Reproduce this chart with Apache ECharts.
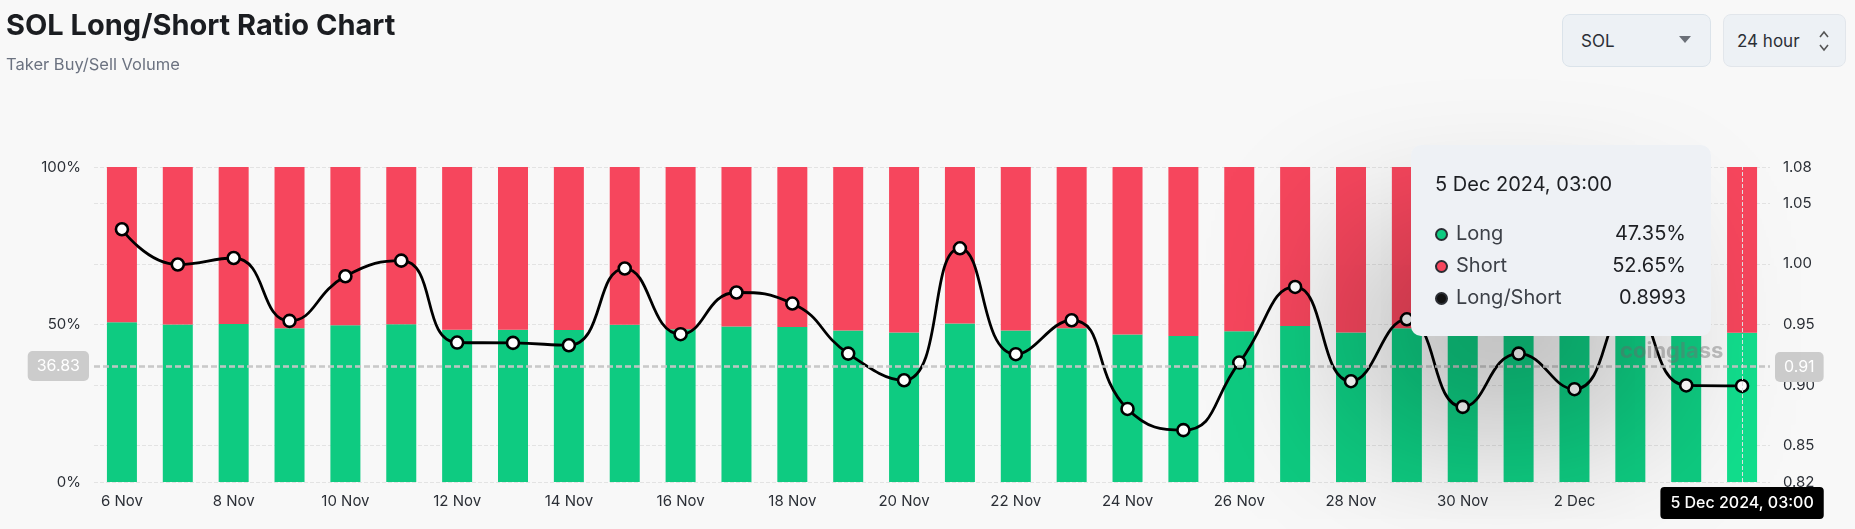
<!DOCTYPE html>
<html>
<head>
<meta charset="utf-8">
<script src="https://cdn.jsdelivr.net/npm/echarts@6/dist/echarts.min.js"></script>
<style>
html, body { margin: 0; padding: 0; background: #f8f8f8; }
#chart { width: 1855px; height: 529px; }
.sel {
    position: absolute; top: 14px; height: 53px; box-sizing: border-box;
    border: 1px solid #dbe3ea; border-radius: 8px; background: #edf1f5;
    font-family: Inter, sans-serif; font-size: 17px; color: #2b2f36;
    display: flex; align-items: center; z-index: 5;
}
</style>
</head>
<body>
<div id="chart"></div>
<div class="sel" style="left:1562px;width:149px;padding-left:18px;">SOL
    <svg style="position:absolute;left:116px;top:21px" width="12" height="8"><path d="M0 0 L12 0 L6 7 Z" fill="#6b7078"/></svg>
</div>
<div class="sel" style="left:1723px;width:123px;padding-left:13px;border-color:#e2e6eb;">24 hour
    <svg style="position:absolute;left:95px;top:15px" width="10" height="22"><path d="M1 7 L5 2 L9 7 M1 15 L5 20 L9 15" stroke="#555" stroke-width="1.6" fill="none"/></svg>
</div>
<script>
var days = ['6 Nov', '7 Nov', '8 Nov', '9 Nov', '10 Nov', '11 Nov', '12 Nov', '13 Nov', '14 Nov', '15 Nov',
    '16 Nov', '17 Nov', '18 Nov', '19 Nov', '20 Nov', '21 Nov', '22 Nov', '23 Nov', '24 Nov', '25 Nov',
    '26 Nov', '27 Nov', '28 Nov', '29 Nov', '30 Nov', '1 Dec', '2 Dec', '3 Dec', '4 Dec', '5 Dec'];
var longPct = [50.70, 49.99, 50.12, 48.80, 49.74, 50.07, 48.32, 48.31, 48.26, 49.90,
    48.51, 49.40, 49.17, 48.08, 47.48, 50.32, 48.06, 48.81, 46.82, 46.32,
    47.88, 49.52, 47.46, 48.83, 46.87, 48.08, 47.27, 49.11, 47.36, 47.35];
var shortPct = [49.30, 50.01, 49.88, 51.20, 50.26, 49.93, 51.68, 51.69, 51.74, 50.10,
    51.49, 50.60, 50.83, 51.92, 52.52, 49.68, 51.94, 51.19, 53.18, 53.68,
    52.12, 50.48, 52.54, 51.17, 53.13, 51.92, 52.73, 50.89, 52.64, 52.65];
var lsRatio = [1.0286, 0.9995, 1.0049, 0.9530, 0.9898, 1.0027, 0.9351, 0.9348, 0.9329, 0.9962,
    0.9420, 0.9764, 0.9673, 0.9260, 0.9040, 1.0129, 0.9255, 0.9535, 0.8803, 0.8628,
    0.9186, 0.9810, 0.9032, 0.9543, 0.8820, 0.9260, 0.8966, 0.9650, 0.8997, 0.8993];
var ratioTicks = [0.82, 0.85, 0.90, 0.95, 1.00, 1.05, 1.08];
var lastStamp = '5 Dec 2024, 03:00';

var green = '#0ecb81', red = '#f6465d';
var last = days.length - 1;

// last bar is the hovered one, a bit brighter
var longData = longPct.map(function (v, i) {
    return i === last ? { value: v, itemStyle: { color: '#12de8d' } } : v;
});

function dot(c) {
    return '<span style="display:inline-block;width:9px;height:9px;border-radius:50%;border:2px solid #2a2d33;background:' + c + ';margin-right:8px;vertical-align:-1px"></span>';
}
function row(c, name, val) {
    return '<div style="display:flex;justify-content:space-between;line-height:32px">' +
        '<span style="color:#3d4148">' + dot(c) + name + '</span><span style="color:#1d1f23">' + val + '</span></div>';
}

var myChart = echarts.init(document.getElementById('chart'));
myChart.setOption({
    animation: false,
    textStyle: { fontFamily: 'Inter, sans-serif' },
    title: {
        text: 'SOL Long/Short Ratio Chart',
        subtext: 'Taker Buy/Sell Volume',
        left: 1,
        top: 7,
        itemGap: 16,
        textStyle: { fontSize: 29, fontWeight: 'bold', color: '#1b1d21', fontFamily: 'Inter' },
        subtextStyle: { fontSize: 16.5, color: '#6b7280', fontFamily: 'Inter' }
    },
    grid: { left: 94, right: 85, top: 167, bottom: 47 },
    tooltip: {
        trigger: 'item',
        triggerOn: 'none',
        alwaysShowContent: true,
        position: [1411, 145],
        backgroundColor: '#eef1f5',
        borderWidth: 0,
        padding: 0,
        extraCssText: 'border-radius:10px;box-shadow:-60px 90px 150px rgba(0,0,0,0.26);',
        formatter: function (p) {
            var i = p.dataIndex;
            return '<div style="width:251px;padding:27px 25px 23px 24px;font-family:Inter,sans-serif;font-size:20px">' +
                '<div style="color:#1d1f23;line-height:24px;margin-bottom:21px">' + lastStamp + '</div>' +
                row(green, 'Long', longPct[i].toFixed(2) + '%') +
                row(red, 'Short', shortPct[i].toFixed(2) + '%') +
                row('#111', 'Long/Short', lsRatio[i].toFixed(4)) +
                '</div>';
        }
    },
    graphic: [{
        type: 'text',
        left: 1620,
        top: 340,
        z: 100,
        style: { text: 'coinglass', font: 'bold 22px Inter', fill: 'rgba(120,120,120,0.45)' }
    }],
    xAxis: {
        type: 'category',
        data: days,
        axisLine: { show: false },
        axisTick: { show: false },
        axisLabel: { interval: 1, color: '#2b2f36', fontSize: 15, margin: 12 },
        axisPointer: {
            show: true,
            status: 'show',
            value: last,
            type: 'line',
            lineStyle: { color: '#e2e2e2', type: 'dashed', width: 1 },
            label: {
                show: true,
                formatter: function () { return lastStamp; },
                backgroundColor: '#000',
                color: '#fff',
                fontSize: 16,
                fontWeight: 500,
                padding: [8, 10],
                borderRadius: 4,
                margin: 5
            }
        }
    },
    yAxis: [
        {
            type: 'value',
            min: 0,
            max: 100,
            interval: 50,
            axisLabel: { formatter: '{value}%', color: '#2b2f36', fontSize: 15, margin: 13 },
            splitLine: { lineStyle: { color: '#e3e3e3', type: 'dashed' } },
            axisPointer: {
                show: true,
                status: 'show',
                value: 36.83,
                type: 'line',
                lineStyle: { color: '#c6c6c6', type: 'dashed', width: 1.5 },
                label: {
                    show: true,
                    formatter: function (p) { return p.value.toFixed(2); },
                    backgroundColor: '#cccccc',
                    color: '#fff',
                    fontSize: 16,
                    padding: [7, 9],
                    borderRadius: 5,
                    margin: 5
                }
            }
        },
        {
            type: 'value',
            min: 0.82,
            max: 1.08,
            position: 'right',
            axisLabel: {
                customValues: ratioTicks,
                formatter: function (v) { return v.toFixed(2); },
                color: '#2b2f36', fontSize: 15, margin: 13
            },
            axisTick: { show: false, customValues: ratioTicks },
            splitLine: { show: true, lineStyle: { color: '#e3e3e3', type: 'dashed' } },
            axisPointer: {
                show: true,
                status: 'show',
                value: 0.9149,
                type: 'line',
                lineStyle: { color: '#c6c6c6', type: 'dashed', width: 1.5 },
                label: {
                    show: true,
                    formatter: function (p) { return p.value.toFixed(2); },
                    backgroundColor: '#cccccc',
                    color: '#fff',
                    fontSize: 16,
                    padding: [7, 9],
                    borderRadius: 5,
                    margin: 5
                }
            }
        }
    ],
    series: [
        {
            name: 'Long',
            type: 'bar',
            stack: 'ls',
            barWidth: 30,
            itemStyle: { color: green },
            data: longData
        },
        {
            name: 'Short',
            type: 'bar',
            stack: 'ls',
            barWidth: 30,
            itemStyle: { color: red },
            data: shortPct
        },
        {
            name: 'Long/Short',
            type: 'line',
            yAxisIndex: 1,
            smooth: true,
            symbol: 'circle',
            symbolSize: 12,
            z: 10,
            lineStyle: { color: '#000', width: 2.8 },
            itemStyle: { color: '#fff', borderColor: '#000', borderWidth: 2.6 },
            data: lsRatio
        }
    ]
});

myChart.dispatchAction({ type: 'showTip', seriesIndex: 2, dataIndex: last });
</script>
</body>
</html>
